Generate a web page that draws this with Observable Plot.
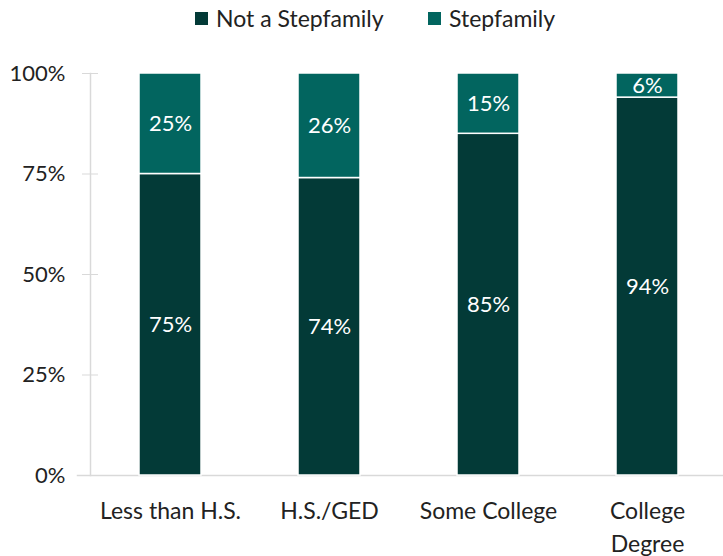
<!DOCTYPE html>
<html><head><meta charset="utf-8">
<script src="https://cdn.jsdelivr.net/npm/d3@7"></script>
<script src="https://cdn.jsdelivr.net/npm/@observablehq/plot@0.6"></script>
<style>
body{margin:0;background:#fff;font-family:Lato,"Open Sans",sans-serif;color:#222;}
#legend{position:relative;height:40px;width:723px;font-size:23px;}
.item{position:absolute;top:4px;display:flex;align-items:center;white-space:nowrap;}
.sw{width:13px;height:13px;margin-right:8px;}
</style></head><body>
<div id="legend"></div>
<div id="chart"></div>
<script>
const categories = ["Less than H.S.", "H.S./GED", "Some College", "College Degree"];
const categoryLabels = ["Less than H.S.", "H.S./GED", "Some College", "College\nDegree"];
const series = ["Not a Stepfamily", "Stepfamily"];
const notStepfamily = [75, 74, 85, 94];
const stepfamily = [25, 26, 15, 6];
const yTicks = [0, 25, 50, 75, 100];
const colors = ["#033a37", "#02655f"];

const data = categories.flatMap((c, i) => [
  {cat: c, series: series[0], value: notStepfamily[i]},
  {cat: c, series: series[1], value: stepfamily[i]}
]);

const legend = document.getElementById("legend");
const legendLeft = [195, 428];
series.forEach((s, i) => {
  const it = document.createElement("div");
  it.className = "item";
  it.style.left = legendLeft[i] + "px";
  it.innerHTML = `<span class="sw" style="background:${colors[i]}"></span><span>${s}</span>`;
  legend.appendChild(it);
});

const chart = Plot.plot({
  width: 723, height: 516,
  marginTop: 33, marginBottom: 81, marginLeft: 77, marginRight: 0,
  style: {fontFamily: "Lato, 'Open Sans', sans-serif", fontSize: "22px", color: "#222", background: "#fff"},
  x: {domain: categories, range: [90, 728], paddingInner: 0.61, paddingOuter: 0.305, align: 0.5, axis: null},
  y: {domain: [0, 100], axis: null},
  color: {domain: series, range: colors},
  marks: [
    Plot.frame({anchor: "bottom", stroke: "#d9d9d9", strokeWidth: 1.5}),
    Plot.frame({anchor: "left", stroke: "#d9d9d9", strokeWidth: 1.5, dx: 13}),
    Plot.axisY({ticks: yTicks, tickFormat: d => d + "%", tickSize: 16, dx: 21, tickPadding: 17, stroke: "#d9d9d9", fill: "#222", label: null, fontSize: 22}),
    Plot.axisX({tickSize: 0, tickPadding: 21, tickFormat: d => categoryLabels[categories.indexOf(d)], lineHeight: 1.4, label: null, fontSize: 23, fill: "#222"}),
    Plot.barY(data, Plot.stackY({x: "cat", y: "value", fill: "series", stroke: "white", strokeWidth: 1.5})),
    Plot.text(data, Plot.stackY({x: "cat", y: "value", text: d => d.value + "%", fill: "white", fontSize: 22}))
  ]
});
document.getElementById("chart").appendChild(chart);
</script>
</body></html>
